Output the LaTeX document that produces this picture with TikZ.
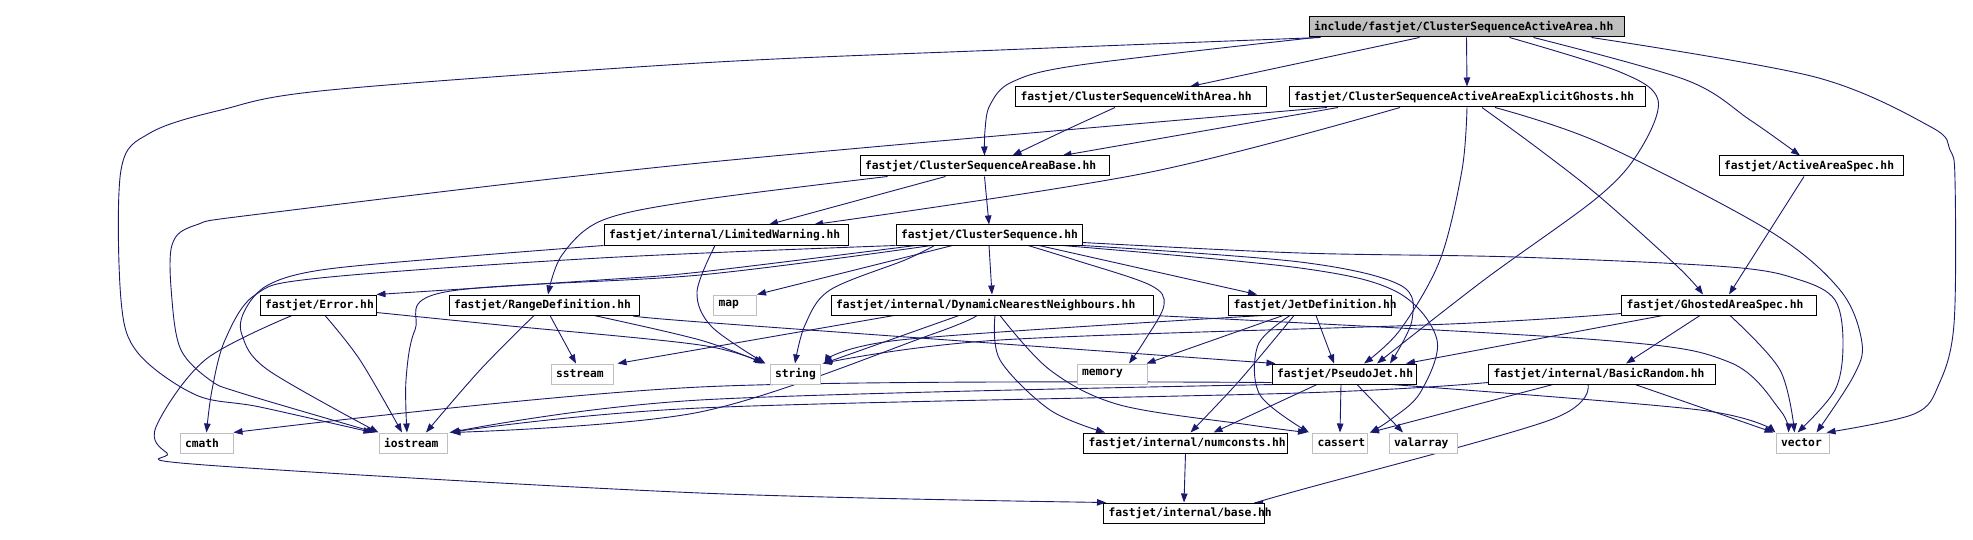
\documentclass[tikz,border=0pt]{standalone}
\usepackage{fontspec}
\setmonofont{DejaVu Sans Mono}
\usetikzlibrary{arrows.meta}
\definecolor{extgray}{HTML}{BFBFBF}
\definecolor{rootgray}{HTML}{BFBFBF}
\definecolor{edgeblue}{HTML}{191970}
\pgfdeclarelayer{bg}
\pgfsetlayers{bg,main}
\tikzset{
  hdr/.style={draw=black, fill=white, line width=1pt, minimum height=20pt, inner xsep=5pt, inner ysep=0pt,
    align=left, font=\ttfamily\bfseries\fontsize{11.3}{13}\selectfont},
  ext/.style={hdr, draw=extgray},
  rootbox/.style={hdr, fill=rootgray},
  dep/.style={draw=edgeblue, line width=0.9pt, -{Triangle[length=9pt,width=6.5pt]}},
  sm/.style={smooth, tension=0.55}
}
\begin{document}
\begin{tikzpicture}[x=1pt,y=-1pt]
\useasboundingbox (0,0) rectangle (1973,540);
% nodes
\node[rootbox, text width=305pt] (R) at (1466.5,27) {\mbox{include/fastjet/ClusterSequenceActiveArea.hh}};
\node[hdr, text width=241pt] (WA) at (1141,97) {\mbox{fastjet/ClusterSequenceWithArea.hh}};
\node[hdr, text width=346pt] (EG) at (1467,97) {\mbox{fastjet/ClusterSequenceActiveAreaExplicitGhosts.hh}};
\node[hdr, text width=174pt] (AAS) at (1811,166) {\mbox{fastjet/ActiveAreaSpec.hh}};
\node[hdr, text width=239pt] (AB) at (984.5,166) {\mbox{fastjet/ClusterSequenceAreaBase.hh}};
\node[hdr, text width=234pt] (LW) at (726,235) {\mbox{fastjet/internal/LimitedWarning.hh}};
\node[hdr, text width=176pt] (CS) at (989,235) {\mbox{fastjet/ClusterSequence.hh}};
\node[hdr, text width=106pt] (ERR) at (318,305) {\mbox{fastjet/Error.hh}};
\node[hdr, text width=180pt] (RD) at (544,305) {\mbox{fastjet/RangeDefinition.hh}};
\node[ext, text width=33pt] (MAP) at (735,305) {\mbox{map}};
\node[hdr, text width=312pt] (DNN) at (992,305) {\mbox{fastjet/internal/DynamicNearestNeighbours.hh}};
\node[hdr, text width=153pt] (JD) at (1310,305) {\mbox{fastjet/JetDefinition.hh}};
\node[hdr, text width=185pt] (GAS) at (1719,305) {\mbox{fastjet/GhostedAreaSpec.hh}};
\node[ext, text width=52pt] (SS) at (582,374) {\mbox{sstream}};
\node[ext, text width=40pt] (STR) at (795,374) {\mbox{string}};
\node[ext, text width=60pt] (MEM) at (1112,374) {\mbox{memory}};
\node[hdr, text width=134pt] (PJ) at (1344,374) {\mbox{fastjet/PseudoJet.hh}};
\node[hdr, text width=217pt] (BR) at (1602,374) {\mbox{fastjet/internal/BasicRandom.hh}};
\node[ext, text width=43pt] (CMATH) at (206.5,443) {\mbox{cmath}};
\node[ext, text width=58pt] (IO) at (413,443) {\mbox{iostream}};
\node[hdr, text width=194pt] (NC) at (1185.5,443) {\mbox{fastjet/internal/numconsts.hh}};
\node[ext, text width=45pt] (CAS) at (1340,443) {\mbox{cassert}};
\node[ext, text width=58pt] (VAL) at (1423,443) {\mbox{valarray}};
\node[ext, text width=43pt] (VEC) at (1802.5,443) {\mbox{vector}};
\node[hdr, text width=151pt] (BASE) at (1184,513) {\mbox{fastjet/internal/base.hh}};
% edges
\begin{pgfonlayer}{bg}
% root
\draw[dep] plot[sm] coordinates {([xshift=12pt]R.south west) (1000,50) (700,63) (330,90) (221,110) (150,133) (121,170) (121,300) (138,353) (196,395) (260,407) ([xshift=-6pt]IO.north west)};
\draw[dep] plot[sm] coordinates {([xshift=7pt]R.south west) (1080,65) (1012,82) (990,105) (985,130) (AB.north)};
\draw[dep] ([xshift=111pt]R.south west) -- ([xshift=49pt]WA.north);
\draw[dep] (R.south) -- (EG.north);
\draw[dep] plot[sm] coordinates {([xshift=201pt]R.south west) (1620,72) (1658,100) (1640,150) (1598,197) (1484,280) ([xshift=33pt]PJ.north)};
\draw[dep] plot[sm] coordinates {([xshift=225pt]R.south west) (1686,80) (1750,120) ([xshift=-11pt]AAS.north)};
\draw[dep] plot[sm] coordinates {([xshift=283pt]R.south west) (1815,77) (1931,127) (1950,150) (1955,180) (1954,324) (1939,384) (1914,414) ([xshift=-3pt]VEC.north east)};
% with area
\draw[dep] plot[sm] coordinates {([xshift=-26pt]WA.south) (1066,130) ([xshift=28pt]AB.north)};
% explicit ghosts
\draw[dep] ([xshift=-129pt]EG.south) -- ([xshift=78pt]AB.north);
\draw[dep] plot[sm] coordinates {([xshift=-67pt]EG.south) (1146,173) ([xshift=88pt]LW.north)};
\draw[dep] plot[sm] coordinates {([xshift=-140pt]EG.south) (700,163) (268,213) (196,225) (172,245) (172,300) (181,350) (210,380) (241,393) ([xshift=-3pt]IO.north west)};
\draw[dep] plot[sm] coordinates {(EG.south) (1462,170) (1440,260) (1400,330) ([xshift=20pt]PJ.north)};
\draw[dep] plot[sm] coordinates {([xshift=15pt]EG.south) (1540,150) (1600,197) (1678,267) ([xshift=-16pt]GAS.north)};
\draw[dep] plot[sm] coordinates {([xshift=28pt]EG.south) (1600,143) (1768,230) (1840,290) (1862,343) (1853,377) ([xshift=14pt]VEC.north)};
% active area spec
\draw[dep] ([xshift=-7pt]AAS.south) -- ([xshift=10pt]GAS.north);
% area base
\draw[dep] ([xshift=-39pt]AB.south) -- ([xshift=43pt]LW.north);
\draw[dep] (AB.south) -- (CS.north);
\draw[dep] plot[sm] coordinates {([xshift=-97pt]AB.south) (700,200) (603,220) (562,255) ([xshift=4pt]RD.north)};
% limited warning
\draw[dep] plot[sm] coordinates {([xshift=-11pt]LW.south) (697,292) (712,327) ([xshift=-4pt]STR.north west)};
\draw[dep] plot[sm] coordinates {(LW.south west) (446,258) (321,270) (268,285) (245,310) (242,335) (268,370) (IO.north west)};
% cluster sequence
\draw[dep] plot[sm] coordinates {(CS.south west) (600,258) (320,278) (255,295) (225,340) (212,390) (CMATH.north)};
\draw[dep] plot[sm] coordinates {([xshift=20pt]CS.south west) (700,272) (600,280) (ERR.north east)};
\draw[dep] plot[sm] coordinates {([xshift=36pt]CS.south west) (700,275) (445,292) (415,330) (406,380) ([xshift=-6pt]IO.north)};
\draw[dep] ([xshift=57pt]CS.south west) -- (MAP.north east);
\draw[dep] plot[sm] coordinates {([xshift=39pt]CS.south west) (905,260) (830,290) (805,325) (STR.north)};
\draw[dep] (CS.south) -- (DNN.north);
\draw[dep] plot[sm] coordinates {([xshift=39pt]CS.south) (1075,260) (1150,285) (1164,305) (1145,340) ([xshift=17pt]MEM.north)};
\draw[dep] ([xshift=50pt]CS.south) -- ([xshift=-53pt]JD.north);
\draw[dep] plot[sm] coordinates {(CS.south east) (1300,262) (1400,285) (1412,320) ([xshift=46pt]PJ.north)};
\draw[dep] plot[sm] coordinates {([xshift=-20pt]CS.south east) (1300,268) (1397,292) (1437,340) (1420,393) (1390,420) ([xshift=2pt]CAS.north east)};
\draw[dep] plot[sm] coordinates {([yshift=3pt]CS.south east) (1300,253) (1515,257) (1730,267) (1800,280) (1835,300) (1843,343) (1835,390) ([xshift=-5pt]VEC.north)};
% dynamic nearest neighbours
\draw[dep] ([xshift=-33pt]DNN.south) -- ([xshift=3pt]STR.north east);
\draw[dep] ([xshift=-98pt]DNN.south) -- ([xshift=4pt]SS.north east);
\draw[dep] plot[sm] coordinates {([xshift=-15pt]DNN.south) (930,335) (700,412) ([xshift=4pt]IO.north east)};
\draw[dep] plot[sm] coordinates {([xshift=3pt]DNN.south) (1000,360) (1050,410) ([xshift=22pt]NC.north west)};
\draw[dep] plot[sm] coordinates {([xshift=8pt]DNN.south) (1050,370) (1120,405) (1250,425) ([xshift=-5pt]CAS.north west)};
\draw[dep] plot[sm] coordinates {(DNN.south east) (1600,340) (1729,362) (1780,410) ([xshift=-14pt]VEC.north)};
% error
\draw[dep] plot[sm] coordinates {([xshift=-26pt]ERR.south) (205,360) (156,427) (167,453) (205,465) (700,493) ([xshift=3pt]BASE.north west)};
\draw[dep] plot[sm] coordinates {([xshift=7pt]ERR.south) (360,360) ([xshift=-11pt]IO.north)};
\draw[dep] plot[sm] coordinates {([yshift=3pt]ERR.south east) (500,325) (700,345) ([xshift=-7pt]STR.north west)};
% range definition
\draw[dep] plot[sm] coordinates {([xshift=-10pt]RD.south) (480,370) ([xshift=13pt]IO.north)};
\draw[dep] ([xshift=6pt]RD.south) -- ([xshift=-6pt]SS.north);
\draw[dep] plot[sm] coordinates {([xshift=50pt]RD.south) (700,340) ([xshift=-5pt]STR.north west)};
\draw[dep] plot[sm] coordinates {(RD.south east) (700,322) ([xshift=4pt]PJ.north west)};
% jet definition
\draw[dep] plot[sm] coordinates {([xshift=-47pt]JD.south) (900,340) ([xshift=4pt]STR.north east)};
\draw[dep] ([xshift=-27pt]JD.south) -- ([xshift=-1pt]MEM.north east);
\draw[dep] plot[sm] coordinates {([xshift=-16pt]JD.south) (1240,380) ([xshift=5pt]NC.north)};
\draw[dep] plot[sm] coordinates {([xshift=-20pt]JD.south) (1258,345) (1260,395) ([xshift=-3pt]CAS.north west)};
\draw[dep] ([xshift=6pt]JD.south) -- ([xshift=-10pt]PJ.north);
% ghosted area spec
\draw[dep] plot[sm] coordinates {([yshift=2pt]GAS.south west) (1450,324) (1000,340) ([xshift=2pt]STR.north east)};
\draw[dep] ([xshift=-56pt]GAS.south) -- ([xshift=62pt]PJ.north);
\draw[dep] ([xshift=-19pt]GAS.south) -- ([xshift=24pt]BR.north);
\draw[dep] plot[sm] coordinates {([xshift=11pt]GAS.south) (1780,370) ([xshift=-8pt]VEC.north)};
% pseudojet
\draw[dep] plot[sm] coordinates {([yshift=2pt]PJ.south west) (700,387) (CMATH.north east)};
\draw[dep] plot[sm] coordinates {([xshift=3pt]PJ.south west) (700,400) ([xshift=3pt]IO.north east)};
\draw[dep] ([xshift=-27pt]PJ.south) -- ([xshift=28pt]NC.north);
\draw[dep] ([xshift=-3pt]PJ.south) -- (CAS.north);
\draw[dep] ([xshift=13pt]PJ.south) -- ([xshift=-20pt]VAL.north);
\draw[dep] plot[sm] coordinates {([xshift=-25pt]PJ.south east) (1700,410) (VEC.north west)};
% basic random
\draw[dep] plot[sm] coordinates {([yshift=2pt]BR.south west) (1300,393) (700,408) ([xshift=2pt]IO.north east)};
\draw[dep] ([xshift=-49pt]BR.south) -- ([xshift=2pt]CAS.north east);
\draw[dep] plot[sm] coordinates {([xshift=-14pt]BR.south) (1550,420) (1300,490) ([xshift=70pt]BASE.north)};
\draw[dep] ([xshift=33pt]BR.south) -- ([xshift=-2pt]VEC.north west);
% numconsts
\draw[dep] (NC.south) -- (BASE.north);
\end{pgfonlayer}
\end{tikzpicture}
\end{document}
